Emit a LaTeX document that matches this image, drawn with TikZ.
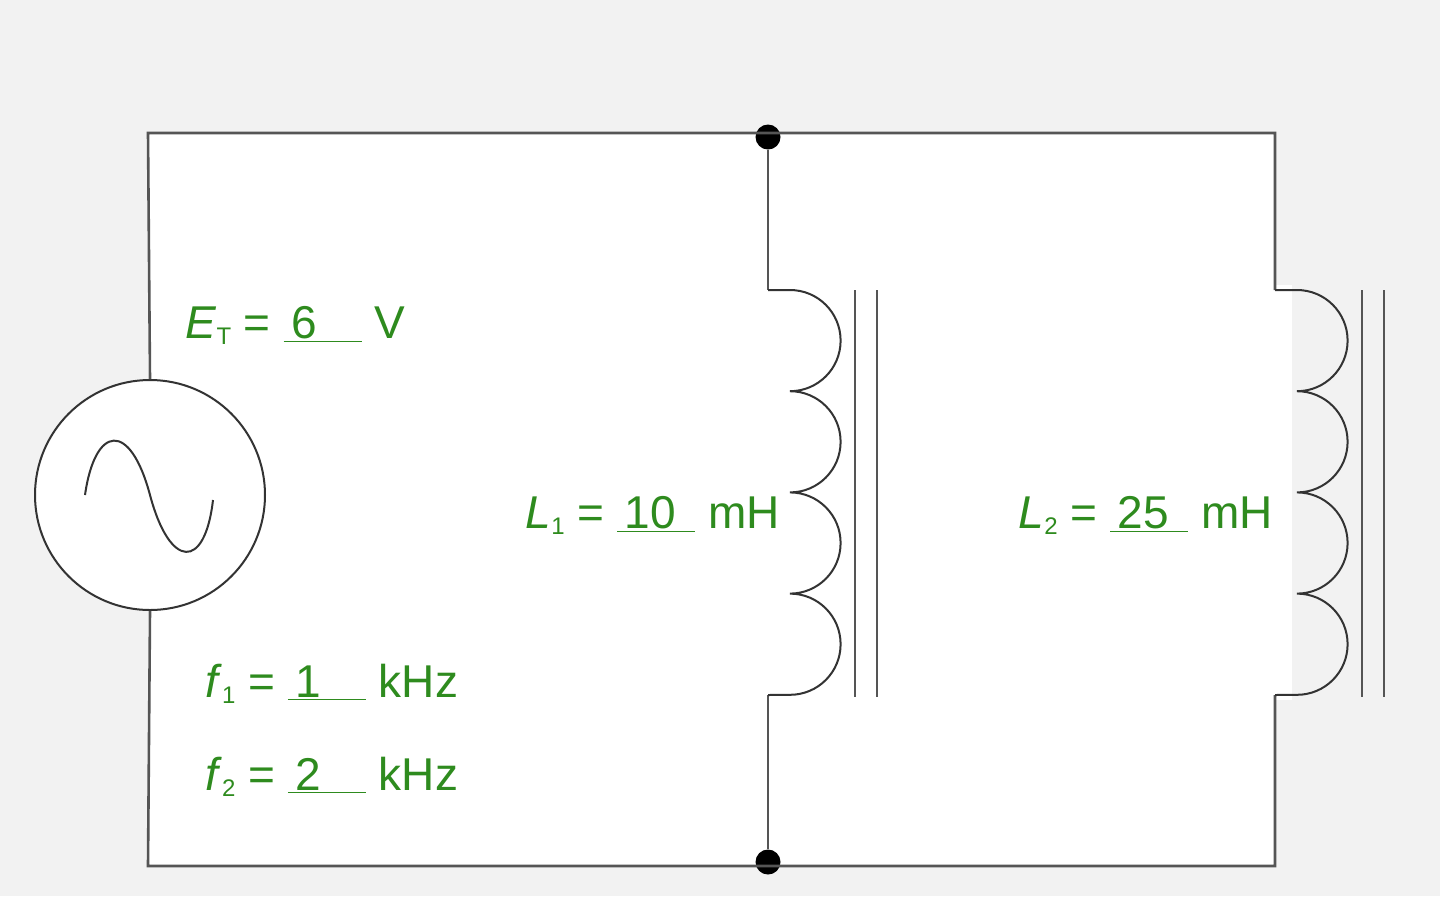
\documentclass[tikz,border=0pt]{standalone}
\usepackage{fontspec}
\setmainfont{Liberation Sans}
\usetikzlibrary{positioning}
\definecolor{bggray}{HTML}{F2F2F2}
\definecolor{wiregray}{HTML}{555555}
\definecolor{lblgreen}{HTML}{2E8B1E}
\newcommand{\blank}[1]{\underline{\makebox[1.7em]{#1\hfill}}}
\newcommand{\sub}[1]{\raisebox{-0.25ex}{\fontsize{12}{12}\selectfont #1}}

\begin{document}
\begin{tikzpicture}[x=0.5pt,y=-0.5pt]
    \tikzset{wire/.style = {draw=wiregray,line width=1.3pt}}
    \tikzset{coil/.style = {draw=black!80,line width=1pt}}
    \tikzset{core/.style = {draw=wiregray,line width=1.3pt}}
    \tikzset{junction/.style = {circle,fill=black,inner sep=0pt,minimum size=12.5pt}}
    \tikzset{lbl/.style = {text=lblgreen,font=\fontsize{23}{26}\selectfont,inner sep=0pt}}
    % background
    \fill[bggray] (0,0) rectangle (1440,896);
    \useasboundingbox (0,0) rectangle (1440,896);
    \fill[white] (148,133) rectangle (1275,866);
    \fill[white] (1275,285) rectangle (1292,700);
    % corners and junctions
    \coordinate (tl) at (148,133);
    \coordinate (tr) at (1275,133);
    \coordinate (bl) at (148,866);
    \coordinate (br) at (1275,866);
    \node[junction] (top) at (768,137) {};
    \node[junction] (bot) at (768,862) {};
    % source
    \node[circle,draw=black!80,fill=white,line width=1pt,minimum size=115pt,inner sep=0pt] (src) at (150,495) {};
    \draw[coil] (85,495) .. controls (95,425) and (130,420) .. (150,495)
                        .. controls (170,570) and (205,570) .. (213,500);
    % wires
    \draw[wire] (src.north) -- (tl) -- (tr) -- (1275,290);
    \draw[wire] (src.south) -- (bl) -- (br) -- (1275,695);
    \draw[wire] (top) -- (768,290);
    \draw[wire] (bot) -- (768,695);
    % inductors
    \foreach \x in {768,1275} {
        \draw[coil] (\x,290) -- (\x+22,290)
            arc(90:-90:25.3pt) arc(90:-90:25.3pt) arc(90:-90:25.3pt) arc(90:-90:25.3pt)
            -- (\x,695);
        \draw[core] (\x+87,290) -- (\x+87,697);
        \draw[core] (\x+109,290) -- (\x+109,697);
    }
    % labels
    \node[lbl,anchor=base west] (et) at (185,338) {\textit{E}\sub{T} = \blank{\,6} V};
    \node[lbl,anchor=base east] (l1) at (780,528) {\textit{L}\sub{1} = \blank{\,10} mH};
    \node[lbl,anchor=base east] (l2) at (1273,528) {\textit{L}\sub{2} = \blank{\,25} mH};
    \node[lbl,anchor=base west] (f1) at (205,697) {\textit{f}\sub{1} = \blank{\,1} kHz};
    \node[lbl,anchor=base west] (f2) at (205,790) {\textit{f}\sub{2} = \blank{\,2} kHz};
\end{tikzpicture}
\end{document}
